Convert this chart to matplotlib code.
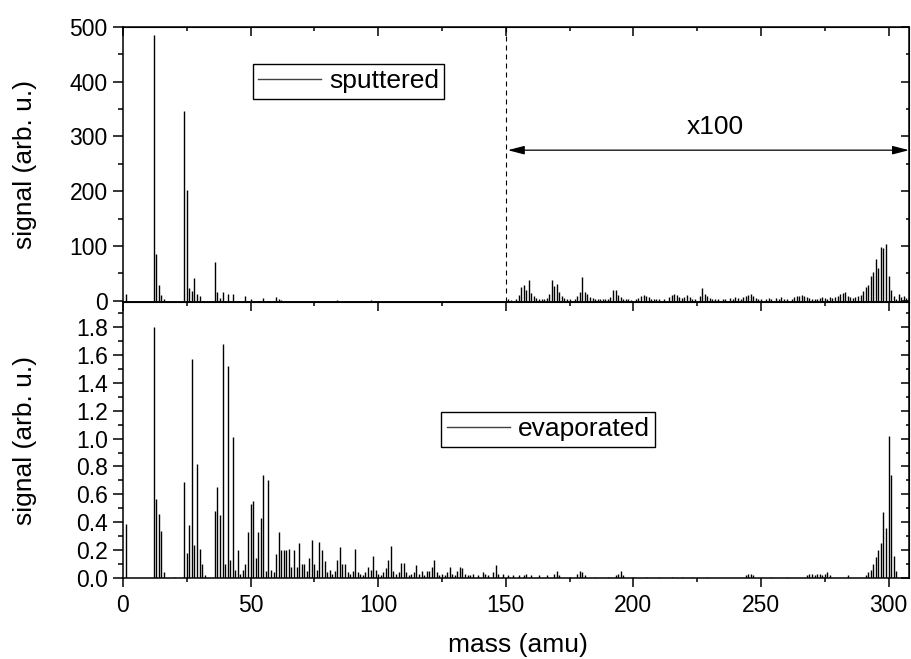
import sys
from matplotlib import pyplot as plt
from matplotlib.ticker import MultipleLocator, FormatStrFormatter
from matplotlib.lines import Line2D

plt.rcParams['font.family'] = ['Liberation Sans', 'DejaVu Sans']

# sputtered spectrum below 150 amu (drawn as measured)
sput_mass_low = [1, 12, 13, 14, 15, 16, 24, 25, 26, 27, 28, 29, 30, 36, 37, 38, 39, 41, 43,
                 48, 50, 55, 60, 61, 62, 84, 97]
sput_sig_low = [12, 485, 85, 29, 10, 4, 347, 203, 23, 18, 42, 12, 8, 70, 16, 5, 16, 12, 12,
                9, 3, 5, 6, 4, 2, 2, 1]

# sputtered spectrum above 150 amu (true values, drawn x100)
sput_mass_high = [151, 152, 154, 155, 156, 157, 158, 159, 160, 161, 162, 163, 164, 165, 166,
                  167, 168, 169, 170, 171, 172, 173, 174, 175, 177, 178, 179, 180, 181, 182,
                  183, 184, 185, 186, 187, 188, 189, 190, 191, 192, 193, 194, 195, 196, 197,
                  198, 199, 201, 202, 203, 204, 205, 206, 207, 208, 209, 210, 212, 214, 215,
                  216, 217, 218, 219, 220, 221, 222, 223, 224, 226, 227, 228, 229, 230, 231,
                  232, 233, 235, 236, 238, 239, 240, 241, 242, 243, 244, 245, 246, 247, 248,
                  249, 250, 252, 253, 254, 256, 257, 258, 259, 260, 262, 263, 264, 265, 266,
                  267, 268, 269, 270, 271, 272, 273, 274, 275, 276, 277, 278, 279, 280, 281,
                  282, 283, 284, 285, 286, 287, 288, 289, 290, 291, 292, 293, 294, 295, 296,
                  297, 298, 299, 300, 301, 302, 303, 304, 305, 306, 307, 308]
sput_sig_high = [0.03, 0.02, 0.04, 0.10, 0.25, 0.28, 0.20, 0.37, 0.14, 0.08, 0.05, 0.04, 0.03, 0.04, 0.05,
                 0.12, 0.37, 0.26, 0.31, 0.16, 0.08, 0.05, 0.04, 0.03, 0.04, 0.09, 0.16, 0.43, 0.16, 0.13,
                 0.07, 0.05, 0.04, 0.03, 0.03, 0.04, 0.03, 0.04, 0.06, 0.19, 0.20, 0.10, 0.06, 0.04, 0.03,
                 0.03, 0.02, 0.03, 0.05, 0.08, 0.11, 0.09, 0.06, 0.04, 0.03, 0.04, 0.03, 0.03, 0.06, 0.11,
                 0.13, 0.10, 0.07, 0.05, 0.06, 0.11, 0.06, 0.04, 0.03, 0.08, 0.23, 0.13, 0.08, 0.05, 0.04,
                 0.03, 0.03, 0.04, 0.03, 0.05, 0.04, 0.06, 0.05, 0.04, 0.06, 0.08, 0.10, 0.13, 0.08, 0.05,
                 0.04, 0.03, 0.04, 0.05, 0.03, 0.05, 0.04, 0.06, 0.04, 0.03, 0.04, 0.06, 0.08, 0.09, 0.11,
                 0.09, 0.07, 0.05, 0.04, 0.03, 0.04, 0.05, 0.06, 0.05, 0.04, 0.06, 0.05, 0.07, 0.09, 0.12,
                 0.14, 0.15, 0.09, 0.06, 0.05, 0.06, 0.08, 0.10, 0.18, 0.25, 0.28, 0.45, 0.52, 0.76, 0.60,
                 0.98, 0.96, 1.03, 0.45, 0.20, 0.08, 0.04, 0.12, 0.06, 0.09, 0.05, 0.04]
sput_scale = 100

evap_mass = [1, 12, 13, 14, 15, 16, 20, 24, 25, 26, 27, 28, 29, 30, 31, 32, 36, 37, 38, 39,
             40, 41, 42, 43, 44, 45, 46, 47, 48, 49, 50, 51, 52, 53, 54, 55, 56, 57, 58, 59,
             60, 61, 62, 63, 64, 65, 66, 67, 68, 69, 70, 71, 72, 73, 74, 75, 76, 77, 78, 79,
             80, 81, 82, 83, 84, 85, 86, 87, 88, 89, 90, 91, 92, 93, 94, 95, 96, 97, 98, 99,
             100, 101, 102, 103, 104, 105, 106, 107, 108, 109, 110, 111, 112, 113, 114, 115,
             116, 117, 118, 119, 120, 121, 122, 123, 124, 125, 126, 127, 128, 129, 130, 131,
             132, 133, 134, 135, 136, 137, 139, 141, 142, 143, 145, 146, 147, 149, 151, 153,
             155, 157, 158, 160, 163, 166, 169, 170, 171, 175, 178, 179, 180, 181, 185, 190,
             193, 194, 195, 196, 200, 205, 210, 215, 219, 223, 229, 244, 245, 246, 247, 254,
             260, 268, 269, 270, 271, 272, 273, 274, 275, 276, 277, 284, 291, 292, 293, 294,
             295, 296, 297, 298, 299, 300, 301, 302, 303]
evap_sig = [0.39, 1.80, 0.57, 0.46, 0.34, 0.04, 0.01, 0.69, 0.18, 0.38, 1.57, 0.24, 0.82, 0.21, 0.10, 0.02, 0.48, 0.65, 0.45, 1.68,
            0.10, 1.52, 0.13, 1.01, 0.06, 0.20, 0.03, 0.06, 0.10, 0.33, 0.53, 0.55, 0.14, 0.33, 0.43, 0.74, 0.05, 0.70, 0.06, 0.04,
            0.17, 0.33, 0.20, 0.20, 0.20, 0.21, 0.08, 0.20, 0.08, 0.25, 0.10, 0.10, 0.05, 0.14, 0.27, 0.10, 0.06, 0.26, 0.20, 0.12,
            0.04, 0.06, 0.03, 0.05, 0.13, 0.22, 0.10, 0.10, 0.04, 0.03, 0.05, 0.21, 0.04, 0.03, 0.02, 0.04, 0.08, 0.06, 0.16, 0.06,
            0.03, 0.02, 0.04, 0.07, 0.13, 0.23, 0.05, 0.03, 0.04, 0.11, 0.11, 0.04, 0.02, 0.03, 0.04, 0.09,
            0.03, 0.05, 0.02, 0.05, 0.05, 0.08, 0.13, 0.04, 0.02, 0.03, 0.02, 0.04, 0.08, 0.03, 0.02, 0.05,
            0.08, 0.07, 0.03, 0.02, 0.02, 0.03, 0.02, 0.04, 0.03, 0.02, 0.04, 0.09, 0.03, 0.03, 0.02, 0.02,
            0.02, 0.02, 0.03, 0.02, 0.02, 0.02, 0.03, 0.05, 0.02, 0.01, 0.03, 0.05, 0.04, 0.02, 0.01, 0.01,
            0.02, 0.03, 0.05, 0.02, 0.01, 0.01, 0.01, 0.01, 0.01, 0.01, 0.01, 0.02, 0.03, 0.03, 0.02, 0.01,
            0.01, 0.02, 0.03, 0.03, 0.02, 0.03, 0.03, 0.02, 0.03, 0.04, 0.02, 0.02, 0.02, 0.04, 0.06, 0.10,
            0.15, 0.20, 0.25, 0.47, 0.36, 1.02, 0.74, 0.16, 0.05]


def styleAxes(ax, ymajor, yminor, labelBottom):
    for spine in ax.spines.values():
        spine.set_linewidth(1.1)
    ax.xaxis.set_major_locator(MultipleLocator(50))
    ax.xaxis.set_minor_locator(MultipleLocator(25))
    ax.yaxis.set_major_locator(MultipleLocator(ymajor))
    ax.yaxis.set_minor_locator(MultipleLocator(yminor))
    ax.tick_params(axis='y', which='both', direction='out', left=True, right=False,
                   labelsize=16.5, width=1.1, pad=4)
    ax.tick_params(axis='y', which='major', length=7)
    ax.tick_params(axis='y', which='minor', length=3.5)

    # right side ticks point inwards
    right = ax.secondary_yaxis('right')
    right.yaxis.set_major_locator(MultipleLocator(ymajor))
    right.yaxis.set_minor_locator(MultipleLocator(yminor))
    right.tick_params(which='both', direction='in', labelright=False, width=1.1)
    right.tick_params(which='major', length=5.5)
    right.tick_params(which='minor', length=2.5)

    # top ticks point inwards
    top = ax.secondary_xaxis('top')
    top.xaxis.set_major_locator(MultipleLocator(50))
    top.xaxis.set_minor_locator(MultipleLocator(25))
    top.tick_params(which='both', direction='in', labeltop=False, width=1.1)
    top.tick_params(which='major', length=6.5)
    top.tick_params(which='minor', length=3)

    ax.tick_params(axis='x', which='both', direction='out', top=False, bottom=labelBottom,
                   labelbottom=labelBottom, labelsize=16.5, width=1.1, pad=5)
    ax.tick_params(axis='x', which='major', length=6.5)
    ax.tick_params(axis='x', which='minor', length=3)


def main(argv=None):
    fig = plt.figure(figsize=(9.11, 6.59), dpi=100)
    ax1 = fig.add_axes([0.135, 0.5417, 0.8628, 0.4173])
    ax2 = fig.add_axes([0.135, 0.1229, 0.8628, 0.4188])

    # top: sputtered
    ax1.vlines(sput_mass_low, 0, sput_sig_low, colors='black', linewidth=1.0)
    ax1.vlines(sput_mass_high, 0, [s * sput_scale for s in sput_sig_high], colors='black', linewidth=1.0)
    ax1.set_xlim(0, 308)
    ax1.set_ylim(-2.4, 500)
    styleAxes(ax1, 100, 50, False)

    ax1.axvline(150, color='black', linestyle=(0, (4.5, 3.6)), linewidth=0.8)
    ax1.annotate('', xy=(150.8, 275), xytext=(308, 275),
                 arrowprops=dict(arrowstyle='<|-|>,head_length=0.5,head_width=0.13',
                                 mutation_scale=20, color='black', lw=0.9,
                                 shrinkA=0, shrinkB=0))
    ax1.text(232, 317, 'x' + str(sput_scale), fontsize=19, ha='center', va='center')

    leg1 = ax1.legend(handles=[Line2D([], [], color='0.25', linewidth=1.0)], labels=['sputtered'],
                      loc='upper left', bbox_to_anchor=(0.165, 0.865), borderaxespad=0,
                      fancybox=False, edgecolor='black', framealpha=1, fontsize=19,
                      handlelength=2.4, handletextpad=0.3, borderpad=0.2)
    leg1.get_frame().set_linewidth(1.0)

    ax1.set_ylabel('signal (arb. u.)', fontsize=19)
    ax1.yaxis.set_label_coords(-0.11, 0.5)

    # bottom: evaporated
    ax2.vlines(evap_mass, 0, evap_sig, colors='black', linewidth=1.0)
    ax2.set_xlim(0, 308)
    ax2.set_ylim(0, 1.98)
    styleAxes(ax2, 0.2, 0.1, True)
    ax2.yaxis.set_major_formatter(FormatStrFormatter('%.1f'))

    leg2 = ax2.legend(handles=[Line2D([], [], color='0.25', linewidth=1.0)], labels=['evaporated'],
                      loc='upper left', bbox_to_anchor=(0.405, 0.601), borderaxespad=0,
                      fancybox=False, edgecolor='black', framealpha=1, fontsize=19,
                      handlelength=2.4, handletextpad=0.3, borderpad=0.2)
    leg2.get_frame().set_linewidth(1.0)

    ax2.set_ylabel('signal (arb. u.)', fontsize=19)
    ax2.yaxis.set_label_coords(-0.11, 0.5)
    ax2.set_xlabel('mass (amu)', fontsize=19)
    ax2.xaxis.set_label_coords(0.503, -0.198)

    fig.savefig('out.png', dpi=100)


if __name__ == "__main__":
    sys.exit(main())
